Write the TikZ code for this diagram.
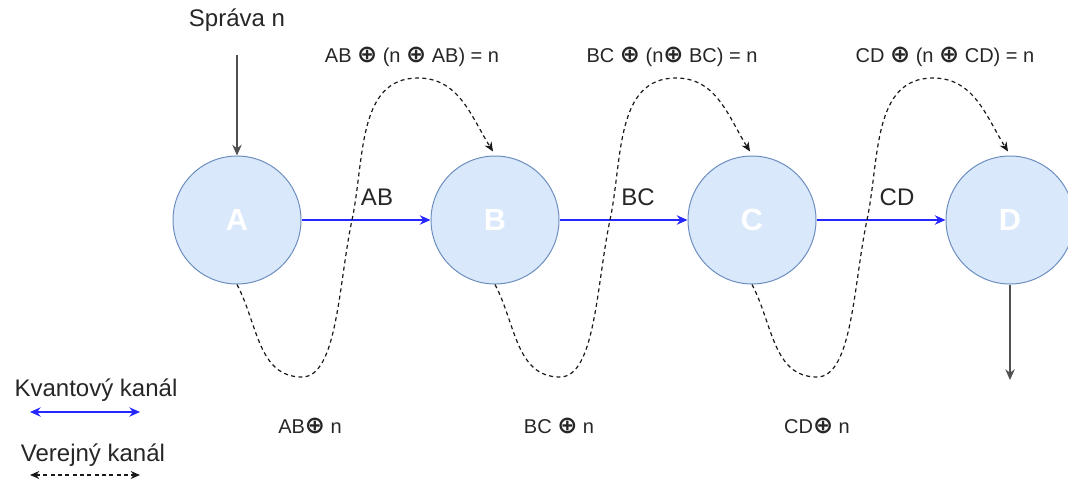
\documentclass[tikz,border=0pt]{standalone}
\usepackage{fontspec}
\setmainfont{Liberation Sans}
\newfontfamily\symfont{DejaVu Sans}
\usetikzlibrary{positioning,arrows.meta}
\definecolor{nodefill}{HTML}{DAE8FC}
\definecolor{nodeline}{HTML}{6C8EBF}
\definecolor{msggray}{HTML}{505050}
\newcommand{\xorsym}{{\symfont\bfseries\fontsize{18}{18}\selectfont ⊕}}

\begin{document}
\begin{tikzpicture}[x=0.75pt,y=0.75pt,
        station/.style={circle,draw=nodeline,fill=nodefill,line width=0.75pt,
                    minimum size=96pt,inner sep=0pt,text=white,
                    font=\fontsize{23}{27}\selectfont\bfseries},
        bigtxt/.style={font=\fontsize{18}{22}\selectfont,text=black!85,inner sep=1pt},
        smalltxt/.style={font=\fontsize{15}{18}\selectfont,text=black!85,inner sep=1pt},
        qarr/.style={-{Stealth[length=8pt,width=7pt]},draw=blue!85,line width=1.5pt},
        parr/.style={-{Stealth[length=7pt,width=6pt]},draw=black!90,line width=0.9pt,
                    dash pattern=on 3pt off 2.5pt},
        msg/.style={-{Stealth[length=8pt,width=7pt]},draw=msggray,line width=1.1pt}]
        \useasboundingbox (0,0) rectangle (1068,-483);
        % stations
        \node[station] (A) at (237,-220) {A};
        \node[station] (B) at (495,-220) {B};
        \node[station] (C) at (752,-220) {C};
        \node[station] (D) at (1010,-220) {D};
        % message in / out
        \node[bigtxt] (sprava) at (237,-20) {Správa n};
        \coordinate (msgtop) at (237,-55);
        \coordinate (msgout) at (1010,-380);
        \draw[msg] (msgtop) -- (A.north);
        \draw[msg] (D.south) -- (msgout);
        % quantum channel
        \draw[qarr] (A.east) -- (B.west);
        \draw[qarr] (B.east) -- (C.west);
        \draw[qarr] (C.east) -- (D.west);
        \node[bigtxt] (kab) at (377,-197) {AB};
        \node[bigtxt] (kbc) at (638,-197) {BC};
        \node[bigtxt] (kcd) at (897,-197) {CD};
        % public channel
        \foreach \s/\t in {A/B,B/C,C/D}{
            \draw[parr] (\s.south) to[out=-62,in=180] ([shift={(65,-157)}]\s.center)
                to[out=0,in=-102,out looseness=0.55] ([shift={(115,0)}]\s.center)
                to[out=78,in=180] ([shift={(181,142)}]\s.center)
                to[out=0,in=122] ([shift={(-2,4)}]\t.north);
        }
        \node[smalltxt] (xab) at (412,-57) {AB \xorsym{} (n \xorsym{} AB) = n};
        \node[smalltxt] (xbc) at (672,-57) {BC \xorsym{} (n\xorsym{} BC) = n};
        \node[smalltxt] (xcd) at (945,-57) {CD \xorsym{} (n \xorsym{} CD) = n};
        \node[smalltxt] (pab) at (310,-426) {AB\xorsym{} n};
        \node[smalltxt] (pbc) at (559,-426) {BC \xorsym{} n};
        \node[smalltxt] (pcd) at (817,-426) {CD\xorsym{} n};
        % legend
        \node[bigtxt] (lq) at (96,-390) {Kvantový kanál};
        \coordinate (q1) at (30,-412);
        \coordinate (q2) at (140,-412);
        \draw[qarr,{Stealth[length=8pt,width=7pt]}-{Stealth[length=8pt,width=7pt]},line width=1pt] (q1) -- (q2);
        \node[bigtxt] (lp) at (93,-455) {Verejný kanál};
        \coordinate (p1) at (30,-475);
        \coordinate (p2) at (140,-475);
        \draw[parr,{Stealth[length=7pt,width=6pt]}-{Stealth[length=7pt,width=6pt]}] (p1) -- (p2);
    \end{tikzpicture}
\end{document}
